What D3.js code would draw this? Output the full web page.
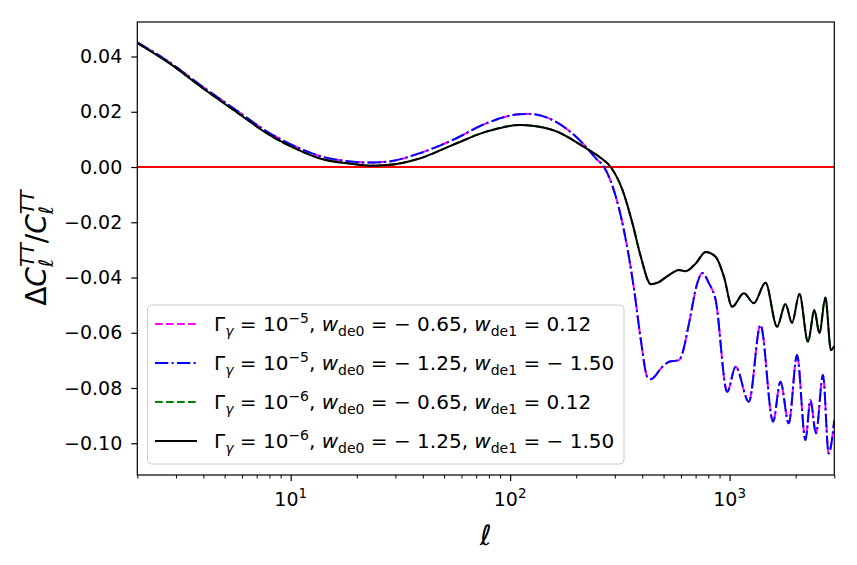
<!DOCTYPE html>
<html><head><meta charset="utf-8">
<script src="https://cdn.jsdelivr.net/npm/d3@7"></script>
<style>
body{margin:0;background:#fff}
text{font-family:"DejaVu Sans",sans-serif;white-space:pre}
</style></head>
<body><svg id="c" width="857" height="565"></svg>
<script>
// Gamma = 1e-5 curves (magenta dashed & blue dash-dot, identical)
const ellG5 = [2,2.807,3.98,5.64,8,11.34,13.59,19.25,22.94,27.32,38.7,54.8,77.8,110.2,122.4,156.2,221.6,245.9,268.3,303.2,336.7,367.3,394,422.2,437.4,494,529.9,588.3,608.9,653.1,712.4,750.7,805.3,864,975.2,1065,1224,1383,1578,1705,1860,2029,2216,2335,2475,2664,2828,3000];
const dG5 = [0.0451,0.0379,0.0290,0.0206,0.0123,0.0063,0.0040,0.0019,0.0016,0.0019,0.0050,0.0098,0.0158,0.0191,0.0192,0.0170,0.0073,0.0031,-0.0001,-0.0108,-0.0264,-0.0445,-0.0626,-0.0761,-0.0768,-0.0723,-0.0705,-0.0699,-0.0675,-0.0566,-0.0421,-0.0384,-0.0421,-0.0482,-0.0814,-0.0723,-0.0850,-0.0572,-0.0922,-0.0777,-0.0928,-0.0681,-0.0988,-0.0844,-0.0964,-0.0753,-0.1037,-0.0916];
// Gamma = 1e-6 curves (green dashed & black solid, identical)
const ellG6 = [2,2.807,3.98,5.64,8,11.34,13.59,19.25,22.94,27.32,38.7,54.8,77.8,110.2,156.2,221.6,254.6,287.9,324.9,360.9,394,437.4,468.8,529.9,588.3,631,700.8,778,864,942.2,1027.5,1161,1290,1457.8,1646,1797,1925,2081,2277,2434,2566,2732,2896,3000];
const dG6 = [0.0449,0.0375,0.0285,0.0200,0.0116,0.0055,0.0031,0.0011,0.0005,0.0007,0.0031,0.0080,0.0128,0.0152,0.0134,0.0068,0.0037,-0.0001,-0.0083,-0.0204,-0.0325,-0.0424,-0.0419,-0.0391,-0.0373,-0.0377,-0.0349,-0.0308,-0.0325,-0.0397,-0.0506,-0.0457,-0.0493,-0.0419,-0.0578,-0.0496,-0.0564,-0.0460,-0.0633,-0.0518,-0.0602,-0.0472,-0.0663,-0.0648];

const yTicks = [-0.10,-0.08,-0.06,-0.04,-0.02,0.00,0.02,0.04];
const xMajor = [10,100,1000];
const xMajorExp = ["1","2","3"];
const xMinor = [2,3,4,5,6,7,8,9,20,30,40,50,60,70,80,90,200,300,400,500,600,700,800,900,2000,3000];

const gammaExp = [-5,-5,-6,-6];
const wde0 = [-0.65,-1.25,-0.65,-1.25];
const wde1 = [0.12,-1.50,0.12,-1.50];
const seriesColor = ["#ff00ff","#0000ff","#008000","#000000"];
const seriesDash = ["7.7,3.3","13.3,3.3,2.1,3.3","7.7,3.3",null];

const svg = d3.select("#c");
const L = 137.3, R = 834.3, T = 22, B = 475;
const x = d3.scaleLog().domain([2,3000]).range([L,R]);
const y = d3.scaleLinear().domain([-0.1115,0.0525]).range([B,T]);

svg.append("defs").append("clipPath").attr("id","clip")
  .append("rect").attr("x",L).attr("y",T).attr("width",R-L).attr("height",B-T);

const plot = svg.append("g").attr("clip-path","url(#clip)");
// zero line
plot.append("line").attr("x1",L).attr("x2",R).attr("y1",y(0)).attr("y2",y(0))
  .attr("stroke","#ff0000").attr("stroke-width",2);

const line = d3.line().x(d=>x(d[0])).y(d=>y(d[1])).curve(d3.curveMonotoneX);
const dataG5 = ellG5.map((l,i)=>[l,dG5[i]]);
const dataG6 = ellG6.map((l,i)=>[l,dG6[i]]);
const seriesData = [dataG5,dataG5,dataG6,dataG6];
seriesData.forEach((d,i)=>{
  plot.append("path").datum(d).attr("d",line).attr("fill","none")
    .attr("stroke",seriesColor[i]).attr("stroke-width",2)
    .attr("stroke-dasharray",seriesDash[i]);
});

// axes
const fmt = d3.format(".2f");
const yAxis = svg.append("g").attr("transform",`translate(${L},0)`)
  .call(d3.axisLeft(y).tickValues(yTicks).tickSize(6).tickPadding(9).tickFormat(d=>fmt(d)));
yAxis.select(".domain").remove();
yAxis.selectAll("line").attr("stroke-width",1.2);
yAxis.selectAll("text").style("font-size","19px").attr("fill","#000");

const xAxisMinor = svg.append("g").attr("transform",`translate(0,${B})`)
  .call(d3.axisBottom(x).tickValues(xMinor).tickSize(3.5).tickFormat(""));
xAxisMinor.select(".domain").remove();
xAxisMinor.selectAll("line").attr("stroke-width",1);
const xAxis = svg.append("g").attr("transform",`translate(0,${B})`)
  .call(d3.axisBottom(x).tickValues(xMajor).tickSize(6).tickFormat(""));
xAxis.select(".domain").remove();
xAxis.selectAll("line").attr("stroke-width",1.2);
xMajor.forEach((v,i)=>{
  const t = svg.append("text").attr("x",x(v)).attr("y",506).attr("text-anchor","middle")
    .style("font-size","19px");
  t.append("tspan").text("10");
  t.append("tspan").text(xMajorExp[i]).style("font-size","13.5px").attr("dy",-8);
});

// frame
svg.append("rect").attr("x",L).attr("y",T).attr("width",R-L).attr("height",B-T)
  .attr("fill","none").attr("stroke","#000").attr("stroke-width",1.2);

// math runs helper
function addRuns(t, runs, fs){
  let cur = 0;
  runs.forEach(r=>{
    const target = r.pos==="sub" ? 0.25*fs : r.pos==="sup" ? -0.42*fs : 0;
    const ts = t.append("tspan").text(r.t).attr("dy", target-cur);
    cur = target;
    ts.style("font-size",(r.pos ? fs*0.7 : fs)+"px");
    if(r.it) ts.style("font-style","italic");
    if(r.dx!=null) ts.attr("dx",r.dx);
  });
}
const num = v => (v<0 ? "− " : "") + Math.abs(v).toFixed(2);

// legend
const lg = svg.append("g");
lg.append("rect").attr("x",147.5).attr("y",305).attr("width",476.5).attr("height",159).attr("rx",4)
  .attr("fill","#fff").attr("fill-opacity",0.8).attr("stroke","#cccccc").attr("stroke-width",1);
const rowY = [324,363,402,441];
gammaExp.forEach((g,i)=>{
  lg.append("line").attr("x1",155).attr("x2",197).attr("y1",rowY[i]).attr("y2",rowY[i])
    .attr("stroke",seriesColor[i]).attr("stroke-width",2).attr("stroke-dasharray",seriesDash[i]);
  const t = lg.append("text").attr("x",214).attr("y",rowY[i]+7);
  addRuns(t,[
    {t:"Γ"},{t:"γ",pos:"sub",it:true},{t:" = 10"},{t:"−"+Math.abs(g),pos:"sup"},
    {t:", "},{t:"w",it:true},{t:"de0",pos:"sub"},{t:" = "+num(wde0[i])+", "},
    {t:"w",it:true},{t:"de1",pos:"sub"},{t:" = "+num(wde1[i])}
  ],20);
});

// x label
svg.append("text").attr("x",(L+R)/2).attr("y",545).attr("text-anchor","middle")
  .style("font-size","28px").style("font-style","italic").text("ℓ");

// y label
const yl = svg.append("text").attr("transform","translate(46,248) rotate(-90)").attr("text-anchor","middle")
  .style("font-size","28px");
function yRuns(t){
  t.append("tspan").text("Δ");
  t.append("tspan").text("C").style("font-style","italic");
  const s1 = t.append("tspan").text("ℓ").style("font-style","italic").style("font-size","19.6px").attr("dy",7);
  const w1 = s1.node().getComputedTextLength();
  t.append("tspan").text("TT").style("font-style","italic").style("font-size","19.6px").attr("dy",-19).attr("dx",-w1);
  t.append("tspan").text("/").attr("dy",12);
  t.append("tspan").text("C").style("font-style","italic");
  const s2 = t.append("tspan").text("ℓ").style("font-style","italic").style("font-size","19.6px").attr("dy",7);
  const w2 = s2.node().getComputedTextLength();
  t.append("tspan").text("TT").style("font-style","italic").style("font-size","19.6px").attr("dy",-19).attr("dx",-w2);
}
yRuns(yl);
</script></body></html>
